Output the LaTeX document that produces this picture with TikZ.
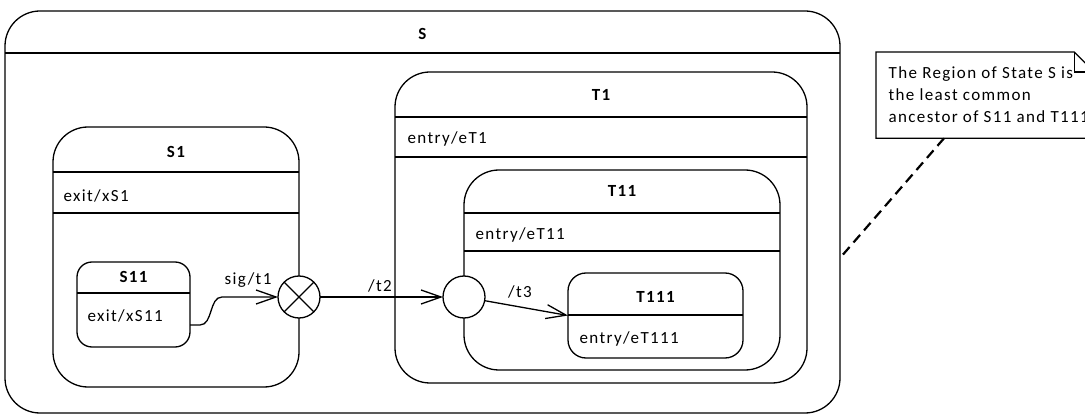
\documentclass[tikz,border=0pt]{standalone}
\usepackage{fontspec}
\setmainfont{Carlito}[LetterSpace=8]
\usetikzlibrary{arrows.meta,positioning}

\begin{document}
\begin{tikzpicture}[x=1pt,y=-1pt,line width=1.3pt,
      stbox/.style={draw,rounded corners=#1,anchor=north west,inner sep=0pt,outer sep=0pt},
      stbox/.default=35pt,
      ttl/.style={font=\fontsize{17}{20}\selectfont\bfseries,anchor=base,inner sep=0pt},
      act/.style={font=\fontsize{17}{20}\selectfont,anchor=base west,inner sep=0pt},
      lbl/.style={font=\fontsize{17}{20}\selectfont,anchor=base,inner sep=0pt},
      pseudo/.style={circle,draw,fill=white,minimum size=42pt,inner sep=0pt,outer sep=0pt},
      tr/.style={-{Straight Barb[length=20pt,width=14pt]}},
      notetxt/.style={font=\fontsize{17}{22}\selectfont,align=left,anchor=north west,inner sep=0pt}]
    \useasboundingbox (0,0) rectangle (1085,414);
    % outer state
    \node[stbox,minimum width=835pt,minimum height=402pt] (S) at (5,11) {};
    \node[ttl] (Sttl) at (S.north |- 0,40) {S};
    \draw (S.west |- 0,53) -- (S.east |- 0,53);
    % left branch
    \node[stbox,minimum width=246pt,minimum height=260pt] (S1) at (53,127) {};
    \node[ttl] (S1ttl) at (S1.north |- 0,158) {S1};
    \draw (S1.west |- 0,172) -- (S1.east |- 0,172);
    \node[act] (S1act) at (63,202) {exit/xS1};
    \draw (S1.west |- 0,213) -- (S1.east |- 0,213);
    \node[stbox=15pt,minimum width=113pt,minimum height=85pt] (S11) at (77,262) {};
    \node[ttl] (S11ttl) at (S11.north |- 0,283) {S11};
    \draw (S11.west |- 0,293) -- (S11.east |- 0,293);
    \node[act] (S11act) at (87,321) {exit/xS11};
    % right branch
    \node[stbox,minimum width=412pt,minimum height=311pt] (T1) at (395,72) {};
    \node[ttl] (T1ttl) at (T1.north |- 0,101) {T1};
    \draw (T1.west |- 0,117) -- (T1.east |- 0,117);
    \node[act] (T1act) at (407,144) {entry/eT1};
    \draw (T1.west |- 0,157) -- (T1.east |- 0,157);
    \node[stbox,minimum width=316pt,minimum height=200pt] (T11) at (464,170) {};
    \node[ttl] (T11ttl) at (T11.north |- 0,197) {T11};
    \draw (T11.west |- 0,213) -- (T11.east |- 0,213);
    \node[act] (T11act) at (475,240) {entry/eT11};
    \draw (T11.west |- 0,251) -- (T11.east |- 0,251);
    \node[stbox=18pt,minimum width=175pt,minimum height=85pt] (T111) at (568,273) {};
    \node[ttl] (T111ttl) at (T111.north |- 0,302) {T111};
    \draw (T111.west |- 0,315) -- (T111.east |- 0,315);
    \node[act] (T111act) at (579,343) {entry/eT111};
    % exit and entry points
    \node[pseudo] (xpt) at (299,297) {};
    \draw (xpt.north west) -- (xpt.south east) (xpt.north east) -- (xpt.south west);
    \node[pseudo] (ept) at (464,297) {};
    % transitions
    \coordinate (s11out) at (S11.east |- 0,325);
    \draw[tr] (s11out) -- (200,325) .. controls (213,325) and (209,297) .. (222,297) -- (xpt.west);
    \node[lbl] (t1lbl) at (248,285) {sig/t1};
    \draw[tr] (xpt) -- (ept);
    \node[lbl] (t2lbl) at (380,291) {/t2};
    \draw[tr] (ept) -- (T111.west);
    \node[lbl] (t3lbl) at (520,298) {/t3};
    % note
    \node[anchor=north west,minimum width=217pt,minimum height=85pt,inner sep=0pt] (note) at (876,52) {};
    \draw (note.north west) -- ([xshift=-20pt]note.north east) -- ([yshift=-20pt]note.north east)
      -- (note.south east) -- (note.south west) -- cycle;
    \draw ([xshift=-20pt]note.north east) -- ([xshift=-20pt,yshift=-20pt]note.north east) -- ([yshift=-20pt]note.north east);
    \node[notetxt] (notetext) at (888,66) {The Region of State S is\\the least common\\ancestor of S11 and T111};
    \draw[line width=2.2pt,dash pattern=on 10pt off 6pt] ([xshift=68pt]note.south west) -- (S.east |- 0,258);
\end{tikzpicture}
\end{document}
